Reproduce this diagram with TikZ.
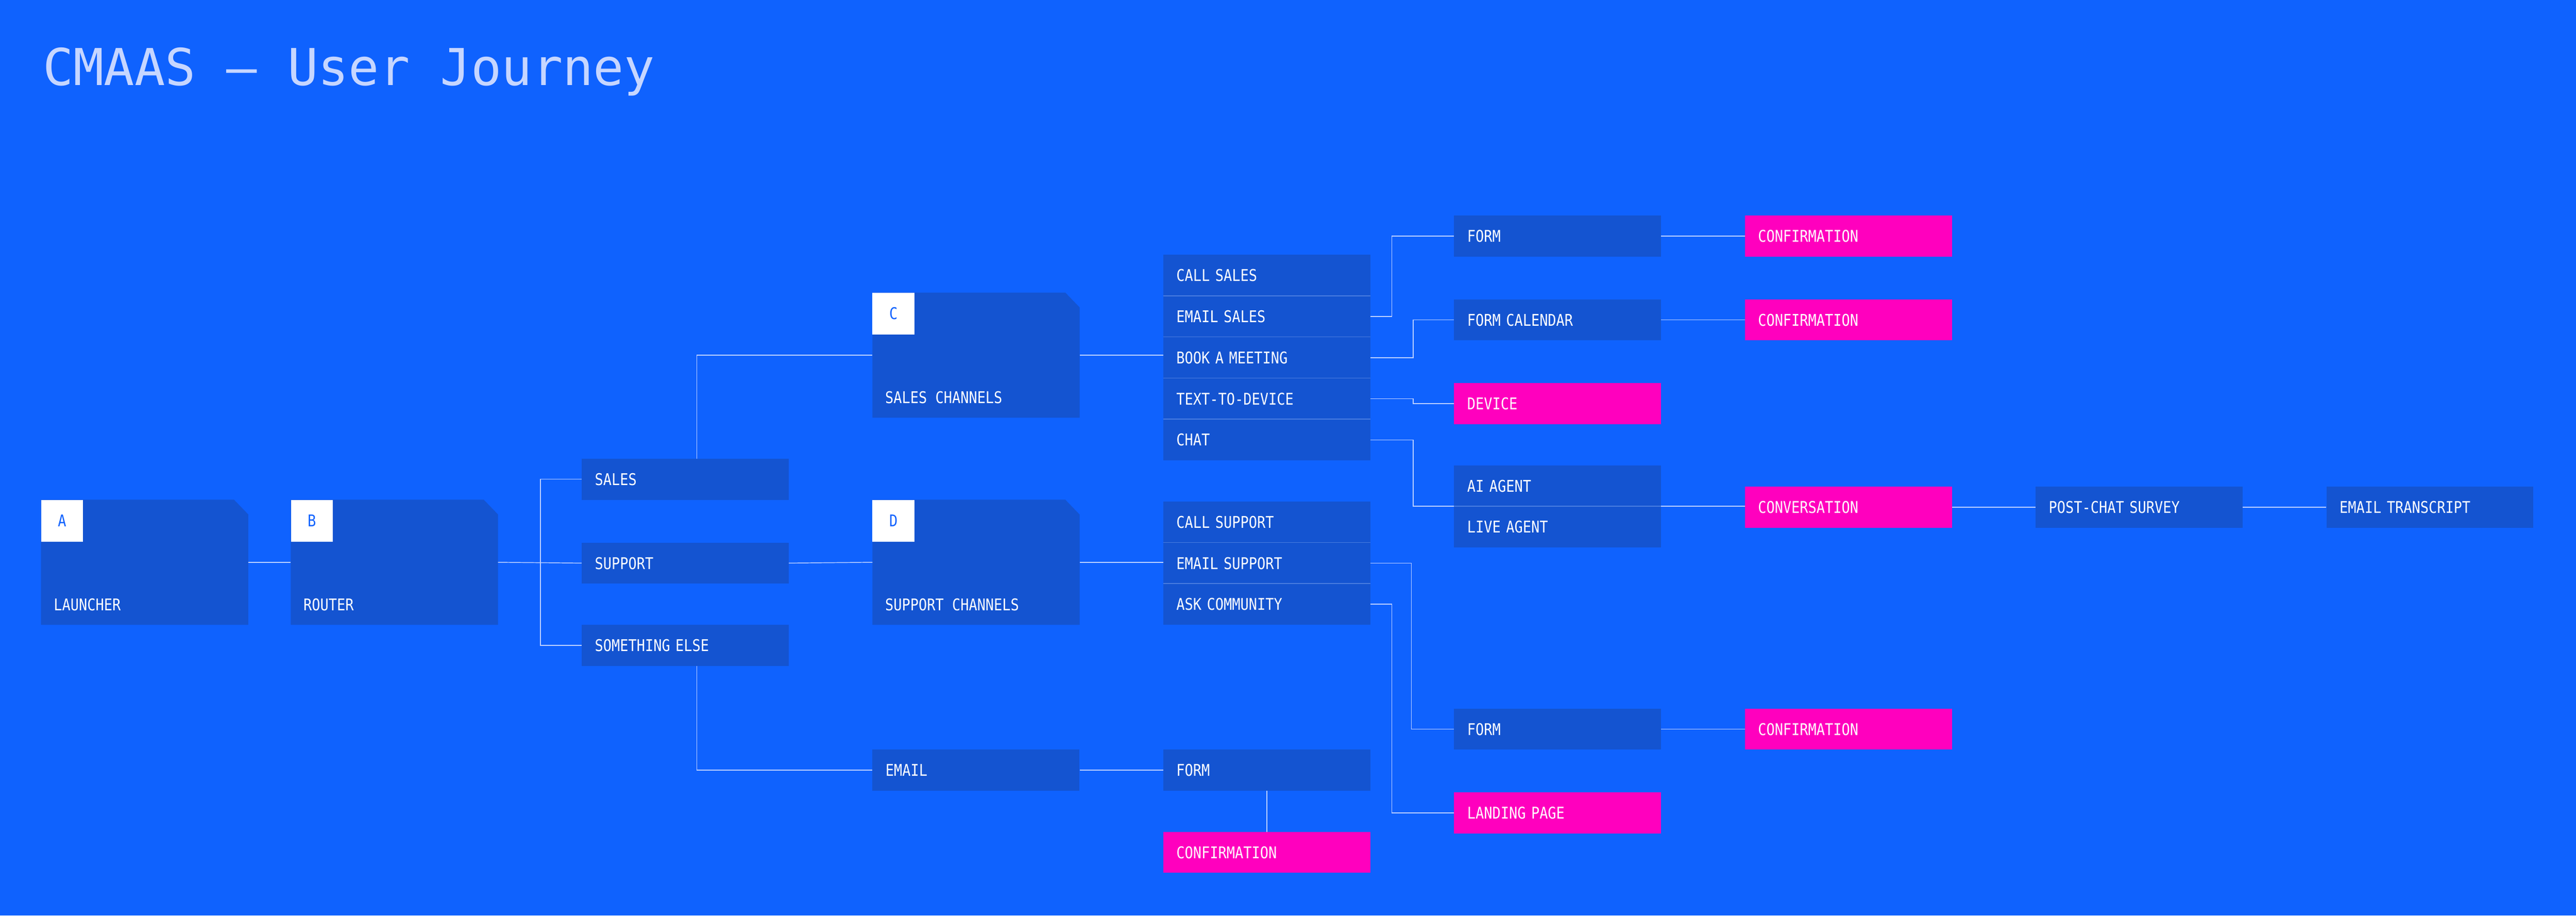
\documentclass[tikz,border=0pt]{standalone}
\usepackage{fontspec}
\newfontfamily\labfont[FakeStretch=0.86]{DejaVu Sans Mono}
\newfontfamily\titfont{DejaVu Sans Mono}
\definecolor{bg}{HTML}{0F62FE}
\definecolor{boxc}{HTML}{1454D1}
\definecolor{mag}{HTML}{FF00BE}
\definecolor{titc}{HTML}{C6D6FF}
\definecolor{wirec}{HTML}{BFD2FF}
\definecolor{sepc}{HTML}{4A7DE0}
\begin{document}
\begin{tikzpicture}[x=1mm,y=-1mm,
  box/.style={anchor=north west,fill=boxc,text=white,font=\labfont\fontsize{28}{30}\selectfont,
    text width=110mm,align=left,inner xsep=8mm,inner ysep=0pt,minimum height=25mm,text depth=0pt},
  pink/.style={box,fill=mag},
  card/.style={anchor=north west,minimum width=126mm,minimum height=76mm,inner sep=0pt},
  letter/.style={anchor=north west,fill=white,text=bg,minimum size=25.5mm,inner sep=0pt,
    font=\labfont\fontsize{28}{30}\selectfont},
  cardlab/.style={anchor=base west,text=white,font=\labfont\fontsize{28}{30}\selectfont,inner sep=0pt},
  wire/.style={draw=wirec,line width=1.3pt},
  sep/.style={draw=sepc,line width=1.2pt}]
\fill[bg] (0,0) rectangle (1568,557);
\useasboundingbox (0,0) rectangle (1568,557);
\node[anchor=base west,text=titc,inner sep=0pt,font=\titfont\fontsize{88}{90}\selectfont] (title) at (26,52) {CMAAS — User Journey};

% cards
\foreach \nm/\x/\y/\lt/\tx in {L/25/304/A/LAUNCHER,R/177/304/B/ROUTER,C/531/178/C/SALES CHANNELS,D/531/304/D/SUPPORT CHANNELS}{
  \node[card] (\nm) at (\x,\y) {};
  \fill[boxc] (\nm.north west) -- ([xshift=-8.7mm]\nm.north east) -- ([yshift=-9mm]\nm.north east) -- (\nm.south east) -- (\nm.south west) -- cycle;
  \node[letter] (\nm l) at (\x,\y) {\lt};
  \node[cardlab] (\nm t) at (\x+7.7,\y+67.5) {\tx};
}

\node[box] (sales) at (354,279) {SALES};
\node[box] (support) at (354,330) {SUPPORT};
\node[box] (else) at (354,380) {SOMETHING ELSE};
\node[box] (email) at (531,456) {EMAIL};

\node[box] (callsales) at (708,155) {CALL SALES};
\node[box] (emailsales) at (708,180) {EMAIL SALES};
\node[box] (book) at (708,205) {BOOK A MEETING};
\node[box] (ttd) at (708,230) {TEXT-TO-DEVICE};
\node[box] (chat) at (708,255) {CHAT};

\node[box] (callsup) at (708,305) {CALL SUPPORT};
\node[box] (emailsup) at (708,330) {EMAIL SUPPORT};
\node[box] (ask) at (708,355) {ASK COMMUNITY};

\node[box] (formB) at (708,456) {FORM};
\node[pink] (confB) at (708,506) {CONFIRMATION};

\node[box] (formA) at (885,131) {FORM};
\node[pink] (confA) at (1062,131) {CONFIRMATION};
\node[box] (formcal) at (885,182) {FORM CALENDAR};
\node[pink] (confcal) at (1062,182) {CONFIRMATION};
\node[pink] (device) at (885,233) {DEVICE};
\node[box] (ai) at (885,283) {AI AGENT};
\node[box] (live) at (885,308) {LIVE AGENT};
\node[pink] (conv) at (1062,296) {CONVERSATION};
\node[box] (post) at (1239,296) {POST-CHAT SURVEY};
\node[box] (trans) at (1416,296) {EMAIL TRANSCRIPT};
\node[box] (formC) at (885,431) {FORM};
\node[pink] (confC) at (1062,431) {CONFIRMATION};
\node[pink] (landing) at (885,482) {LANDING PAGE};

% separators
\foreach \n in {emailsales,book,ttd,chat,emailsup,ask,live}{
  \draw[sep] (\n.north west) -- (\n.north east);
}

% connectors
\draw[wire] (L.east) -- (R.west);
\draw[wire] (R.east) -- (support.west);
\draw[wire] (sales.west) -- ++(-25,0) |- (else.west);
\draw[wire] ([xshift=7mm]sales.north) |- (C.west);
\draw[wire] ([xshift=7mm]else.south) |- (email.west);
\draw[wire] (support.east) -- (D.west);
\draw[wire] (C.east) -- (C.east -| book.west);
\draw[wire] (D.east) -- (D.east -| emailsup.west);
\draw[wire] (email.east) -- (formB.west);
\draw[wire] (formB.south) -- (confB.north);
\draw[wire] (emailsales.east) -- ++(13,0) |- (formA.west);
\draw[wire] (book.east) -- ++(26,0) |- (formcal.west);
\draw[wire] (ttd.east) -- ++(26,0) |- (device.west);
\draw[wire] (chat.east) -- ++(26,0) |- (live.north west);
\draw[wire] (live.north east) -- (live.north east -| conv.west);
\draw[wire] (conv.east) -- (post.west);
\draw[wire] (post.east) -- (trans.west);
\draw[wire] (formA.east) -- (confA.west);
\draw[wire] (formcal.east) -- (confcal.west);
\draw[wire] (emailsup.east) -- ++(25,0) |- (formC.west);
\draw[wire] (ask.east) -- ++(13,0) |- (landing.west);
\draw[wire] (formC.east) -- (confC.west);
\end{tikzpicture}
\end{document}
